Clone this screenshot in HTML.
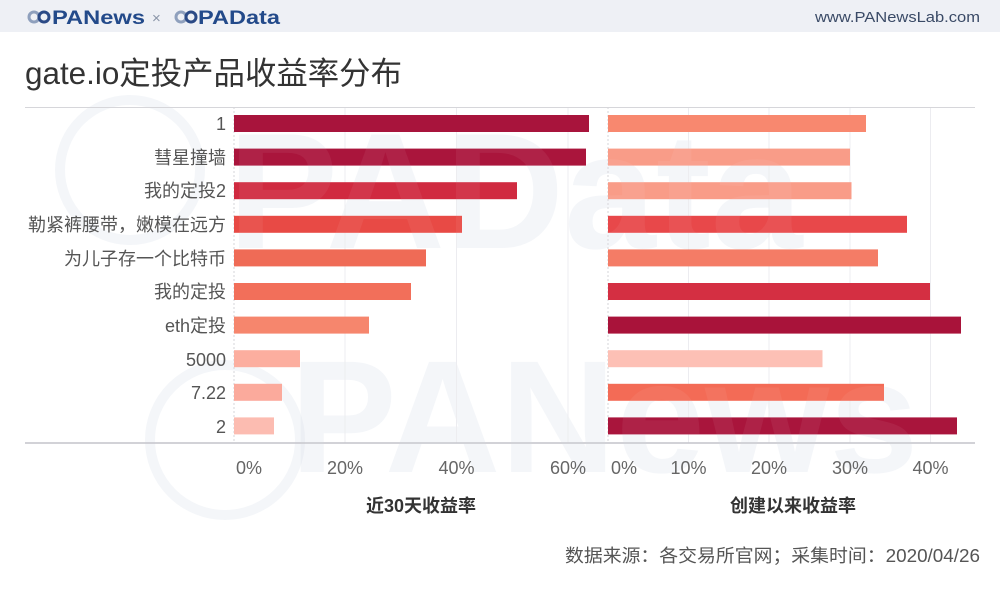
<!DOCTYPE html>
<html><head><meta charset="utf-8"><style>
html,body{margin:0;padding:0;background:#fff;}
body{width:1000px;height:598px;overflow:hidden;position:relative;font-family:"Liberation Sans","Noto Sans CJK SC",sans-serif;}
</style></head><body>
<svg width="1000" height="598" viewBox="0 0 1000 598" xmlns="http://www.w3.org/2000/svg" style="position:absolute;left:0;top:0">
<rect x="0" y="0" width="1000" height="598" fill="#fff"/>
<rect x="0" y="0" width="1000" height="32" fill="#eef0f5"/>
<!-- watermark (behind) -->
<g font-family="Liberation Sans, sans-serif" font-weight="bold" fill="#c8d2e0" fill-opacity="0.2">
<text x="228" y="248" font-size="165">PAData</text>
<text x="290" y="472" font-size="160">PANews</text>
</g>
<g fill="none" stroke="#c8d2e0" stroke-opacity="0.2" stroke-width="10">
<circle cx="130" cy="170" r="70"/>
<circle cx="225" cy="440" r="75"/>
</g>
<!-- logo -->
<g fill="none" stroke="#8fa0bd" stroke-width="3">
<circle cx="34" cy="17" r="5"/><circle cx="44" cy="17" r="5" stroke="#2b4a86"/>
<circle cx="181" cy="17" r="5"/><circle cx="191" cy="17" r="5" stroke="#2b4a86"/>
</g>
<text x="52" y="24" font-family="Liberation Sans, sans-serif" font-weight="bold" font-size="19" fill="#234a8a" textLength="93" lengthAdjust="spacingAndGlyphs">PANews</text>
<text x="152" y="23" font-family="Liberation Sans, sans-serif" font-size="15" fill="#8a95a8">×</text>
<text x="198" y="24" font-family="Liberation Sans, sans-serif" font-weight="bold" font-size="19" fill="#234a8a" textLength="82" lengthAdjust="spacingAndGlyphs">PAData</text>
<text x="980" y="22" text-anchor="end" font-family="Liberation Sans, sans-serif" font-size="15" fill="#3a4a66" textLength="165" lengthAdjust="spacingAndGlyphs">www.PANewsLab.com</text>
<!-- title -->
<text x="25" y="84" font-family="Liberation Sans, Noto Sans CJK SC, sans-serif" font-size="31.5" fill="#333" textLength="377" lengthAdjust="spacingAndGlyphs">gate.io定投产品收益率分布</text>
<!-- gridlines -->
<g stroke="#ececf0" stroke-width="1">
<line x1="345" y1="107" x2="345" y2="443"/><line x1="456.5" y1="107" x2="456.5" y2="443"/><line x1="568" y1="107" x2="568" y2="443"/>
<line x1="688.5" y1="107" x2="688.5" y2="443"/><line x1="769" y1="107" x2="769" y2="443"/><line x1="850" y1="107" x2="850" y2="443"/><line x1="930.5" y1="107" x2="930.5" y2="443"/>
</g>
<g stroke="#d5d5da" stroke-width="1" stroke-dasharray="2,2">
<line x1="234" y1="107" x2="234" y2="443"/><line x1="608" y1="107" x2="608" y2="443"/>
</g>
<line x1="25" y1="107.5" x2="975" y2="107.5" stroke="#d6d6da" stroke-width="1"/>
<line x1="25" y1="443" x2="975" y2="443" stroke="#c4c4ca" stroke-width="1.5"/>
<!-- left bars -->
<g>
<rect x="234" y="115" width="355" height="17" fill="#a8143c"/>
<rect x="234" y="148.6" width="352" height="17" fill="#aa153c"/>
<rect x="234" y="182.2" width="283" height="17" fill="#d02a40"/>
<rect x="234" y="215.8" width="228" height="17" fill="#e84a45"/>
<rect x="234" y="249.4" width="192" height="17" fill="#ef6b56"/>
<rect x="234" y="283" width="177" height="17" fill="#f26f5a"/>
<rect x="234" y="316.6" width="135" height="17" fill="#f6866d"/>
<rect x="234" y="350.2" width="66" height="17" fill="#fcae9f"/>
<rect x="234" y="383.8" width="48" height="17" fill="#fbaa9c"/>
<rect x="234" y="417.4" width="40" height="17" fill="#fcbcb1"/>
</g>
<!-- right bars -->
<g>
<rect x="608" y="115" width="258" height="17" fill="#f8886f"/>
<rect x="608" y="148.6" width="242" height="17" fill="#f99c88"/>
<rect x="608" y="182.2" width="243.5" height="17" fill="#f99c88"/>
<rect x="608" y="215.8" width="299" height="17" fill="#e8484a"/>
<rect x="608" y="249.4" width="270" height="17" fill="#f47c66"/>
<rect x="608" y="283" width="322" height="17" fill="#d42f42"/>
<rect x="608" y="316.6" width="353" height="17" fill="#a9133a"/>
<rect x="608" y="350.2" width="214.5" height="17" fill="#fdc0b5"/>
<rect x="608" y="383.8" width="276" height="17" fill="#f36b56"/>
<rect x="608" y="417.4" width="349" height="17" fill="#a9153c"/>
</g>
<!-- faint watermark overlay -->
<g font-family="Liberation Sans, sans-serif" font-weight="bold" fill="#ffffff" fill-opacity="0.06">
<text x="228" y="248" font-size="165">PAData</text>
<text x="290" y="472" font-size="160">PANews</text>
</g>
<!-- category labels -->
<g font-family="Liberation Sans, Noto Sans CJK SC, sans-serif" font-size="18" fill="#555" text-anchor="end">
<text x="226" y="130">1</text>
<text x="226" y="164">彗星撞墙</text>
<text x="226" y="197">我的定投2</text>
<text x="226" y="231">勒紧裤腰带，嫩模在远方</text>
<text x="226" y="265">为儿子存一个比特币</text>
<text x="226" y="298">我的定投</text>
<text x="226" y="332">eth定投</text>
<text x="226" y="366">5000</text>
<text x="226" y="399">7.22</text>
<text x="226" y="433">2</text>
</g>
<!-- tick labels -->
<g font-family="Liberation Sans, sans-serif" font-size="18" fill="#666" text-anchor="middle">
<text x="249" y="474">0%</text>
<text x="345" y="474">20%</text>
<text x="456.5" y="474">40%</text>
<text x="568" y="474">60%</text>
<text x="624" y="474">0%</text>
<text x="688.5" y="474">10%</text>
<text x="769" y="474">20%</text>
<text x="850" y="474">30%</text>
<text x="930.5" y="474">40%</text>
</g>
<g font-family="Liberation Sans, Noto Sans CJK SC, sans-serif" font-size="18" font-weight="bold" fill="#333" text-anchor="middle">
<text x="421" y="512">近30天收益率</text>
<text x="793" y="512">创建以来收益率</text>
</g>
<text x="980" y="562" text-anchor="end" font-family="Liberation Sans, Noto Sans CJK SC, sans-serif" font-size="18" fill="#555" textLength="415" lengthAdjust="spacingAndGlyphs">数据来源：各交易所官网；采集时间：2020/04/26</text>
</svg>
</body></html>
